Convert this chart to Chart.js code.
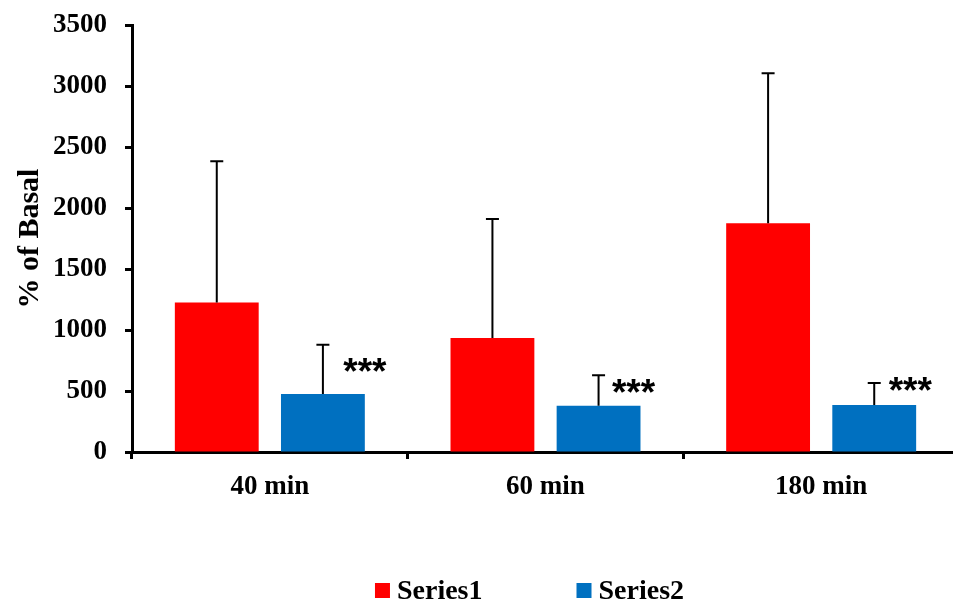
<!DOCTYPE html>
<html>
<head>
<meta charset="utf-8">
<script src="https://cdn.jsdelivr.net/npm/chart.js@4.4.1/dist/chart.umd.min.js"></script>
<style>
  html, body { margin: 0; padding: 0; background: #fff; overflow: hidden; }
  #wrap { position: relative; top: -9px; width: 959px; height: 617px; }
</style>
</head>
<body>
<div id="wrap"><canvas id="chart"></canvas></div>
<script>
// Time points after stimulation
const categories = ['40 min', '60 min', '180 min'];

// Mean response (% of basal) and upper error (SD) per series
const series1 = [1225, 935, 1875];
const series1Err = [1160, 975, 1230];
const series2 = [475, 380, 385];
const series2Err = [405, 250, 180];

// Significance markers shown beside Series2 bars
const significance = ['***', '***', '***'];

// Value-axis tick labels
const yTickValues = [0, 500, 1000, 1500, 2000, 2500, 3000, 3500];

const SERIF = "'Liberation Serif', 'Times New Roman', serif";
const SANS = "'Liberation Sans', Arial, sans-serif";

// Placement of the significance markers relative to the error-bar cap
const markerLayout = {
  dx: [42, 35, 36],
  dy: [20, 11, 1],
  font: 'bold 37px ' + SANS
};

// Upward-only error bars with a short cap
const errorBarsPlugin = {
  id: 'errorBars',
  afterDatasetsDraw(chart) {
    const { ctx } = chart;
    const yScale = chart.scales.y;
    chart.data.datasets.forEach((ds, di) => {
      const meta = chart.getDatasetMeta(di);
      meta.data.forEach((bar, i) => {
        const topY = yScale.getPixelForValue(ds.data[i] + ds.errors[i]);
        ctx.save();
        ctx.strokeStyle = '#000';
        ctx.lineWidth = 2;
        ctx.beginPath();
        ctx.moveTo(bar.x, bar.y);
        ctx.lineTo(bar.x, topY);
        ctx.moveTo(bar.x - 6.5, topY);
        ctx.lineTo(bar.x + 6.5, topY);
        ctx.stroke();
        ctx.restore();
      });
    });
  }
};

// "***" markers next to the Series2 error bars
const markersPlugin = {
  id: 'sigMarkers',
  afterDatasetsDraw(chart) {
    const { ctx } = chart;
    const yScale = chart.scales.y;
    const ds = chart.data.datasets[1];
    const meta = chart.getDatasetMeta(1);
    ctx.save();
    ctx.font = markerLayout.font;
    ctx.fillStyle = '#000';
    ctx.textAlign = 'center';
    ctx.textBaseline = 'alphabetic';
    meta.data.forEach((bar, i) => {
      const txt = significance[i];
      if (!txt) return;
      const capY = yScale.getPixelForValue(ds.data[i] + ds.errors[i]);
      const m = ctx.measureText(txt);
      const cy = capY + markerLayout.dy[i];
      const baseline = cy + (m.actualBoundingBoxAscent - m.actualBoundingBoxDescent) / 2;
      ctx.fillText(txt, bar.x + markerLayout.dx[i], baseline);
    });
    ctx.restore();
  }
};

// Legend row along the bottom
const legendRowPlugin = {
  id: 'legendRow',
  afterDraw(chart, args, opts) {
    const { ctx } = chart;
    const box = 15, gapText = 7, gapItem = 94;
    ctx.save();
    ctx.font = 'bold 28px ' + SERIF;
    ctx.textBaseline = 'middle';
    ctx.textAlign = 'left';
    const items = chart.data.datasets.map(ds => ({
      label: ds.label, color: ds.backgroundColor,
      w: box + gapText + ctx.measureText(ds.label).width
    }));
    const total = items.reduce((s, it) => s + it.w, 0) + gapItem * (items.length - 1);
    let x = opts.centerX - total / 2;
    const cy = opts.centerY;
    items.forEach(it => {
      ctx.fillStyle = it.color;
      ctx.fillRect(x, cy - box / 2, box, box);
      ctx.fillStyle = '#000';
      ctx.fillText(it.label, x + box + gapText, cy + 1);
      x += it.w + gapItem;
    });
    ctx.restore();
  }
};

new Chart(document.getElementById('chart'), {
  type: 'bar',
  data: {
    labels: categories,
    datasets: [
      { label: 'Series1', data: series1, errors: series1Err, backgroundColor: '#FF0000' },
      { label: 'Series2', data: series2, errors: series2Err, backgroundColor: '#0070C0' }
    ]
  },
  options: {
    responsive: true,
    maintainAspectRatio: false,
    animation: false,
    categoryPercentage: 0.77,
    barPercentage: 0.79,
    layout: { padding: { top: 15, left: 0, right: 0, bottom: 0 } },
    plugins: {
      legend: { display: false },
      tooltip: { enabled: false },
      legendRow: { centerX: 529.5, centerY: 599.5 }
    },
    scales: {
      x: {
        border: { display: true, color: '#000', width: 3 },
        grid: { display: true, drawOnChartArea: false, drawTicks: true, tickLength: 7, tickColor: '#000', tickWidth: 3, offset: true },
        ticks: { color: '#000', font: { family: SERIF, weight: 'bold', size: 27 }, padding: 12 },
        afterFit(s) { s.height = 156; }
      },
      y: {
        min: 0,
        max: 3500,
        border: { display: true, color: '#000', width: 3 },
        grid: { drawOnChartArea: false, tickLength: 7, tickColor: '#000', tickWidth: 3 },
        ticks: { color: '#000', font: { family: SERIF, weight: 'bold', size: 27 }, padding: 18, callback: v => String(v) },
        afterBuildTicks(s) { s.ticks = yTickValues.map(v => ({ value: v })); },
        title: { display: true, text: '% of Basal', color: '#000', font: { family: SERIF, weight: 'bold', size: 30 }, padding: { top: 12 } },
        afterFit(s) { s.width = 132; }
      }
    }
  },
  plugins: [errorBarsPlugin, markersPlugin, legendRowPlugin]
});
</script>
</body>
</html>
